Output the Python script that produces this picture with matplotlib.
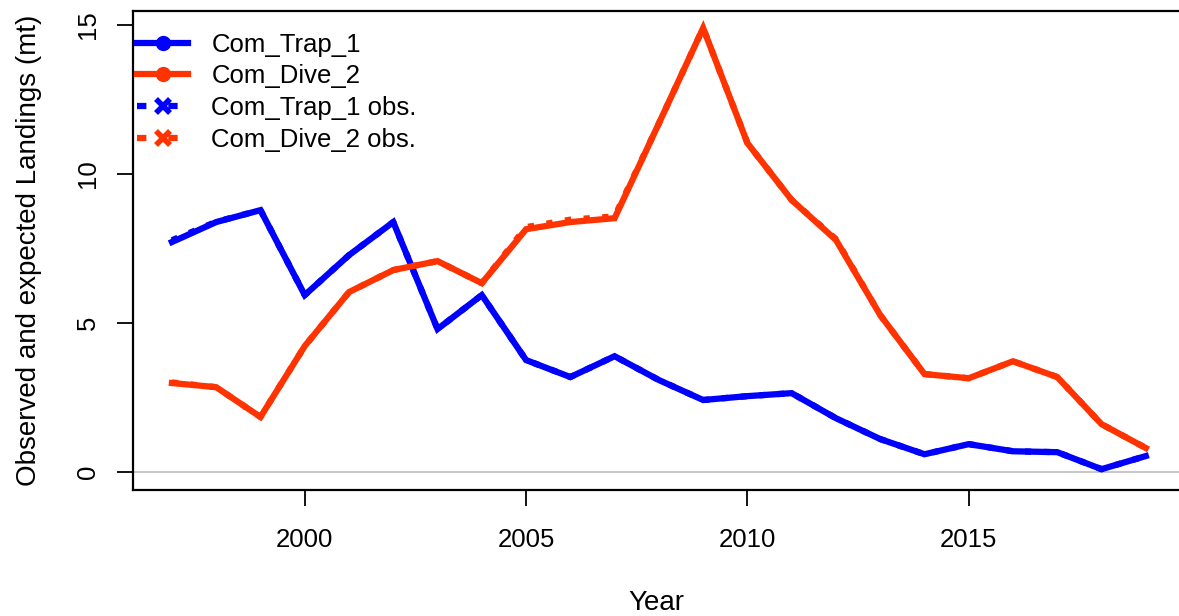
import numpy as np
import matplotlib
matplotlib.use("Agg")
import matplotlib.pyplot as plt
from matplotlib.lines import Line2D

plt.rcParams['font.family'] = ['Liberation Sans', 'DejaVu Sans']

# landings by fleet (mt)
years = list(range(1997, 2020))
trap_exp = [7.72, 8.39, 8.79, 5.94, 7.28, 8.39, 4.80, 5.94, 3.76, 3.19, 3.89,
	3.09, 2.42, 2.55, 2.65, 1.81, 1.11, 0.60, 0.94, 0.70, 0.67, 0.10, 0.54]
dive_exp = [2.99, 2.85, 1.85, 4.23, 6.04, 6.78, 7.08, 6.34, 8.15, 8.39, 8.52,
	11.70, 14.90, 11.04, 9.13, 7.79, 5.27, 3.29, 3.15, 3.72, 3.19, 1.61, 0.81]
trap_obs = [7.78, 8.40, 8.79, 5.94, 7.28, 8.39, 4.80, 5.94, 3.76, 3.19, 3.89,
	3.09, 2.42, 2.55, 2.65, 1.81, 1.11, 0.60, 0.94, 0.70, 0.67, 0.10, 0.54]
dive_obs = [3.01, 2.85, 1.85, 4.23, 6.04, 6.78, 7.08, 6.34, 8.22, 8.47, 8.58,
	11.70, 14.90, 11.04, 9.13, 7.82, 5.27, 3.29, 3.15, 3.72, 3.19, 1.61, 0.81]
fleets = ['Com_Trap_1', 'Com_Dive_2']
colors = ['#0000FF', '#FF3300']

fig = plt.figure(figsize=(11.79, 6.16), dpi=100)
ax = fig.add_axes([0.1128, 0.2045, 0.8872, 0.7776])

ax.axhline(0, color='#c8c8c8', lw=1.5, zorder=1)

for exp, obs, col in zip([trap_exp, dive_exp], [trap_obs, dive_obs], colors):
	ax.plot(years, obs, color=col, lw=4.5, ls=(0, (1, 2)), zorder=2)
	ax.plot(years, exp, color=col, lw=4.5, solid_joinstyle='miter', zorder=3)

ax.set_xlim(1996.12, 2019.75)
ax.set_ylim(-0.6, 15.47)
ax.set_xticks([2000, 2005, 2010, 2015])
ax.set_yticks([0, 5, 10, 15])
for lab in ax.get_yticklabels():
	lab.set_rotation(90)
	lab.set_va('center')
ax.tick_params(axis='both', labelsize=18.5, length=11.5, width=1.3, color='black')
ax.tick_params(axis='x', pad=16)
ax.tick_params(axis='y', pad=12)
ax.spines['right'].set_visible(False)
for s in ['left', 'bottom', 'top']:
	ax.spines[s].set_linewidth(1.6)

ax.set_xlabel('Year', fontsize=20, labelpad=27.5)
ax.set_ylabel('Observed and expected Landings (mt)', fontsize=20, labelpad=25)

handles = []
for col in colors:
	handles.append(Line2D([], [], color=col, lw=4.5, marker='o', markersize=10))
for col in colors:
	handles.append(Line2D([], [], color=col, lw=4.5, ls=(0, (1.5, 3.5)),
		marker='x', markersize=10, markeredgewidth=4))
labels = fleets + [f + ' obs.' for f in fleets]
ax.legend(handles, labels, loc='upper left', frameon=False, fontsize=18.5,
	handlelength=2.0, handletextpad=0.9, labelspacing=0.3,
	borderpad=0.15, borderaxespad=0, bbox_to_anchor=(0.0, 0.963))

fig.savefig('out.png', dpi=100)
